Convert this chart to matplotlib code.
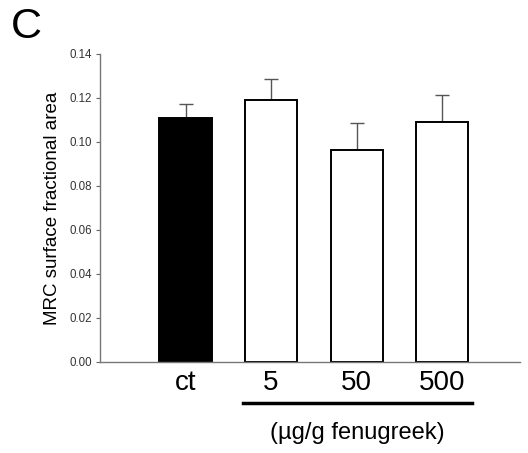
import matplotlib
matplotlib.use("Agg")
import matplotlib.pyplot as plt
import numpy as np

plt.rcParams["font.family"] = ["Liberation Sans", "DejaVu Sans"]

groups = ["ct", "5", "50", "500"]
means = [0.111, 0.119, 0.0965, 0.109]
errors = [0.0065, 0.0095, 0.012, 0.0125]
fills = ["black", "white", "white", "white"]
yticks = [0.00, 0.02, 0.04, 0.06, 0.08, 0.10, 0.12, 0.14]

fig = plt.figure(figsize=(5.28, 4.53), dpi=100)
ax = fig.add_axes([100 / 528, 1 - 362 / 453, 420 / 528, 308 / 453])

x = np.arange(len(groups))
ax.bar(x, means, width=0.61, color=fills, edgecolor="black", linewidth=1.4, zorder=2)
ax.errorbar(x, means, yerr=[np.zeros(len(errors)), errors], fmt="none",
            ecolor="#555555", elinewidth=1.0, capsize=5, capthick=1.0, zorder=1)

ax.set_xlim(-1.0, 3.91)
ax.set_ylim(0, 0.14)
ax.set_yticks(yticks)
ax.set_yticklabels([f"{v:.2f}" for v in yticks], fontsize=8.3, color="#333333")
ax.tick_params(axis="y", length=3, width=0.8, color="#666666", pad=3)
ax.set_xticks(x)
ax.set_xticklabels(groups, fontsize=20)
ax.tick_params(axis="x", length=0, pad=6)
for s in ["top", "right"]:
    ax.spines[s].set_visible(False)
for s in ["left", "bottom"]:
    ax.spines[s].set_color("#777777")
    ax.spines[s].set_linewidth(1.0)

ax.set_ylabel("MRC surface fractional area", fontsize=13.5, labelpad=6)

# dose bracket under the fenugreek groups
fig.add_artist(plt.Line2D([243 / 528, 472 / 528], [1 - 403 / 453, 1 - 403 / 453],
                          color="black", linewidth=2.5))
fig.text(357 / 528, 1 - 433 / 453, "(µg/g fenugreek)", fontsize=17,
         ha="center", va="center")
fig.text(11 / 528, 1 - 27 / 453, "C", fontsize=31, ha="left", va="center")

fig.savefig("out.png", dpi=100)
